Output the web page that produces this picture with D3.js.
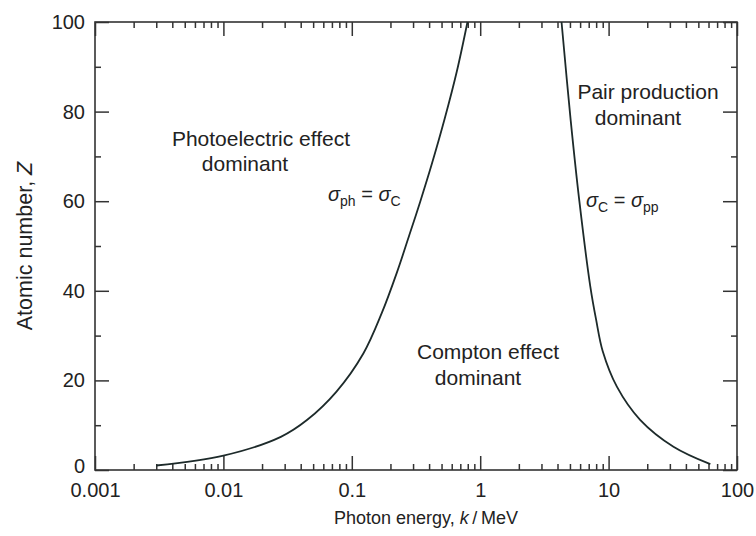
<!DOCTYPE html>
<html>
<head>
<meta charset="utf-8">
<script src="https://cdn.jsdelivr.net/npm/d3@7"></script>
<style>
  html, body { margin: 0; padding: 0; background: #fff; }
  svg { display: block; font-family: "Liberation Sans", Arial, Helvetica, sans-serif; }
  .axis text { fill: #222; font-size: 20px; }
  .axis line { stroke: #333; stroke-width: 1.5; }
  .axis path { display: none; }
</style>
</head>
<body>
<svg id="chart" width="756" height="536"></svg>
<script>
// Boundary where photoelectric and Compton cross sections are equal (σph = σC)
const photoEnergy = [0.003, 0.01, 0.028, 0.045, 0.076, 0.123, 0.171, 0.224, 0.281, 0.342, 0.417, 0.530, 0.658, 0.796];
const photoZ      = [1, 3.2, 7.4, 11.2, 17.5, 26, 35, 44, 52.5, 60, 68, 78.5, 89, 100];

// Boundary where Compton and pair production cross sections are equal (σC = σpp)
const pairEnergy = [4.3, 5.07, 5.92, 7.2, 8.0, 9.0, 11.6, 17.6, 32, 62];
const pairZ      = [100, 78, 60, 41, 33.5, 26.5, 18.6, 11.2, 5.2, 1.3];

// Axis ticks
const xMajorTicks = [0.001, 0.01, 0.1, 1, 10, 100];
const xTickLabels = ["0.001", "0.01", "0.1", "1", "10", "100"];
const yMajorTicks = [0, 20, 40, 60, 80, 100];
const yMinorTicks = [10, 30, 50, 70, 90];

const svg = d3.select("#chart");
const plotLeft = 95, plotRight = 737, plotTop = 22, plotBottom = 470;

const x = d3.scaleLog().domain([0.001, 100]).range([plotLeft, plotRight]);
const y = d3.scaleLinear().domain([0, 100]).range([plotBottom, plotTop]);

// minor decade ticks 2..9 in every decade
const xMinorTicks = [];
for (let d = -3; d < 2; d++) {
  for (let m = 2; m <= 9; m++) xMinorTicks.push(m * Math.pow(10, d));
}

const minorLen = 6, majorLen = 14;

// bottom axis
svg.append("g").attr("class", "axis").attr("transform", `translate(0,${plotBottom})`)
  .call(d3.axisBottom(x).tickValues(xMinorTicks).tickSize(-minorLen).tickFormat(""));
svg.append("g").attr("class", "axis").attr("transform", `translate(0,${plotBottom})`)
  .call(d3.axisBottom(x).tickValues(xMajorTicks).tickSize(-majorLen).tickPadding(13)
    .tickFormat((d, i) => xTickLabels[i]));

// top axis
svg.append("g").attr("class", "axis").attr("transform", `translate(0,${plotTop})`)
  .call(d3.axisTop(x).tickValues(xMinorTicks).tickSize(-minorLen).tickFormat(""));
svg.append("g").attr("class", "axis").attr("transform", `translate(0,${plotTop})`)
  .call(d3.axisTop(x).tickValues(xMajorTicks).tickSize(-majorLen).tickFormat(""));

// left axis
svg.append("g").attr("class", "axis").attr("transform", `translate(${plotLeft},0)`)
  .call(d3.axisLeft(y).tickValues(yMinorTicks).tickSize(-minorLen).tickFormat(""));
const yAxisG = svg.append("g").attr("class", "axis").attr("transform", `translate(${plotLeft},0)`)
  .call(d3.axisLeft(y).tickValues(yMajorTicks).tickSize(-majorLen).tickPadding(10)
    .tickFormat(d3.format("d")));
// lift the zero label a little so it sits clear of the 0.001 label beneath
yAxisG.selectAll(".tick").filter(d => d === 0).select("text").attr("dy", "0.1em");

// right axis
svg.append("g").attr("class", "axis").attr("transform", `translate(${plotRight},0)`)
  .call(d3.axisRight(y).tickValues(yMinorTicks).tickSize(-minorLen).tickFormat(""));
svg.append("g").attr("class", "axis").attr("transform", `translate(${plotRight},0)`)
  .call(d3.axisRight(y).tickValues(yMajorTicks).tickSize(-majorLen).tickFormat(""));

// plot frame
svg.append("rect")
  .attr("x", plotLeft).attr("y", plotTop)
  .attr("width", plotRight - plotLeft).attr("height", plotBottom - plotTop)
  .attr("fill", "none").attr("stroke", "#333").attr("stroke-width", 1.6);

// boundary curves (centripetal Catmull-Rom keeps the steep sections smooth)
const boundary = d3.line().x(d => x(d[0])).y(d => y(d[1])).curve(d3.curveCatmullRom.alpha(0.5));

svg.append("path")
  .datum(d3.zip(photoEnergy, photoZ))
  .attr("d", boundary)
  .attr("fill", "none").attr("stroke", "#1d2a2a").attr("stroke-width", 1.8);

svg.append("path")
  .datum(d3.zip(pairEnergy, pairZ))
  .attr("d", boundary)
  .attr("fill", "none").attr("stroke", "#1d2a2a").attr("stroke-width", 1.8);

// region labels
const labels = svg.append("g").attr("fill", "#222").attr("font-size", 21);
function label(txt, cx, by) {
  labels.append("text").attr("x", cx).attr("y", by).attr("text-anchor", "middle").text(txt);
}
label("Photoelectric effect", 261, 146);
label("dominant", 245, 171);
label("Pair production", 648, 99);
label("dominant", 638, 125);
label("Compton effect", 488, 359);
label("dominant", 478, 385);

// cross-section equality labels with subscripts
function sigmaLabel(xp, yp, a, b) {
  const t = svg.append("text").attr("x", xp).attr("y", yp)
    .attr("fill", "#222").attr("font-size", 20);
  t.append("tspan").attr("font-style", "italic").text("σ");
  t.append("tspan").attr("font-size", 14).attr("dy", 5).text(a);
  t.append("tspan").attr("dy", -5).text(" = ");
  t.append("tspan").attr("font-style", "italic").text("σ");
  t.append("tspan").attr("font-size", 14).attr("dy", 5).text(b);
}
sigmaLabel(328, 201, "ph", "C");
sigmaLabel(586, 207, "C", "pp");

// axis titles
const xt = svg.append("text").attr("x", 426).attr("y", 524)
  .attr("text-anchor", "middle").attr("fill", "#222").attr("font-size", 18);
xt.append("tspan").text("Photon energy, ");
xt.append("tspan").attr("font-style", "italic").text("k");
xt.append("tspan").text("\u2009/\u2009MeV");

const yt = svg.append("text")
  .attr("transform", `translate(32,${(plotTop + plotBottom) / 2}) rotate(-90)`)
  .attr("text-anchor", "middle").attr("fill", "#222").attr("font-size", 21.5);
yt.append("tspan").text("Atomic number, ");
yt.append("tspan").attr("font-style", "italic").text("Z");
</script>
</body>
</html>
